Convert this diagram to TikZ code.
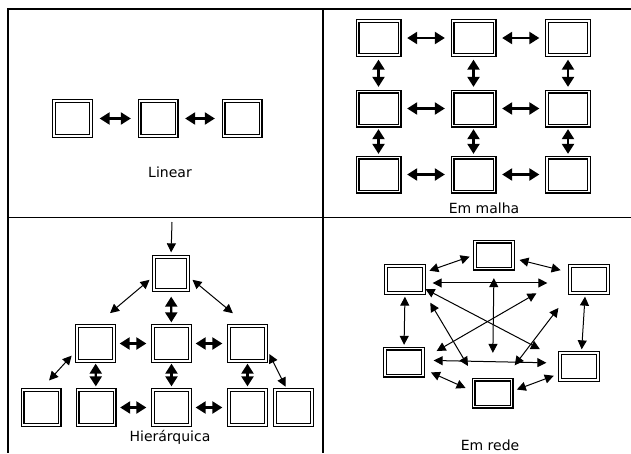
\documentclass[tikz,border=0pt]{standalone}
\usepackage{fontspec}
\setmainfont{DejaVu Sans}
\usetikzlibrary{arrows.meta}
\tikzset{
  pc/.style={draw, line width=1.3pt, double=white, double distance=1.4pt,
             inner sep=0pt, minimum width=37pt, minimum height=35pt},
  link/.style={{Triangle[length=10pt,width=12pt]}-{Triangle[length=10pt,width=12pt]},
               line width=2.2pt},
  thin link/.style={{Triangle[length=9pt,width=9pt]}-{Triangle[length=9pt,width=9pt]},
                    line width=1pt},
  lbl/.style={font=\fontsize{14}{16}\selectfont, inner sep=0pt}
}

\begin{document}
\begin{tikzpicture}[x=1pt, y=-1pt]
        \useasboundingbox (0,0) rectangle (631,453);

        % --- Frame
        \draw[line width=1.2pt] (631,9) -- (8,9) -- (8,453);
        \draw[line width=1.2pt] (8,217.5) -- (631,217.5);
        \draw[line width=1.2pt] (323,9) -- (323,453);

        % --- Linear
        \node[pc] (a1) at (72.5,118.5) {};
        \node[pc] (a2) at (158,118.5) {};
        \node[pc] (a3) at (242,118.5) {};
        \draw[link, shorten <=8pt, shorten >=8pt] (a1) -- (a2);
        \draw[link, shorten <=8pt, shorten >=8pt] (a2) -- (a3);
        \node[lbl] (linear) at (170,172) {Linear};

        % --- Em malha
        \foreach \c/\x in {1/378.5, 2/473.5, 3/568}
          \foreach \r/\y in {1/38, 2/108.5, 3/174.5}
            \node[pc, minimum width=42pt, minimum height=34pt] (m\r\c) at (\x,\y) {};
        \foreach \r in {1,2,3} {
          \draw[link, shorten <=7pt, shorten >=7pt] (m\r1) -- (m\r2);
          \draw[link, shorten <=7pt, shorten >=7pt] (m\r2) -- (m\r3);
        }
        \foreach \c in {1,2,3} {
          \draw[link, shorten <=4pt, shorten >=4pt] (m1\c) -- (m2\c);
          \draw[link, shorten <=3pt, shorten >=3pt] (m2\c) -- (m3\c);
        }
        \node[lbl] (malha) at (484,208) {Em malha};

        % --- Hierárquica
        \coordinate (in) at (172,222);
        \node[pc, minimum width=34pt, minimum height=33pt] (top) at (171,273.5) {};
        \node[pc] (l2) at (95.5,343.5) {};
        \node[pc] (m2) at (171.5,343.5) {};
        \node[pc] (r2) at (247.5,343.5) {};
        \node[pc] (ll3) at (41,407.5) {};
        \node[pc] (l3) at (96,407.5) {};
        \node[pc] (m3) at (171.5,407.5) {};
        \node[pc] (r3) at (247.5,407.5) {};
        \node[pc] (rr3) at (293.5,407.5) {};
        \draw[-{Triangle[length=9pt,width=9pt]}, line width=1pt, shorten >=4pt] (in) -- (top.north);
        \draw[thin link, shorten <=5pt, shorten >=19pt] (top.190) -- (l2.north);
        \draw[thin link, shorten <=5pt, shorten >=19pt] (top.-10) -- (r2.north);
        \draw[link, shorten <=6pt, shorten >=3pt] (top) -- (m2);
        \draw[link, shorten <=5pt, shorten >=6pt] (l2) -- (m2);
        \draw[link, shorten <=5pt, shorten >=6pt] (m2) -- (r2);
        \draw[link, shorten <=2pt, shorten >=3pt] (l2) -- (l3);
        \draw[link, shorten <=2pt, shorten >=3pt] (m2) -- (m3);
        \draw[link, shorten <=2pt, shorten >=3pt] (r2) -- (r3);
        \draw[link, shorten <=5pt, shorten >=6pt] (l3) -- (m3);
        \draw[link, shorten <=5pt, shorten >=6pt] (m3) -- (r3);
        \draw[thin link, shorten <=7pt, shorten >=12pt] (l2.200) -- (ll3.north);
        \draw[thin link, shorten <=6pt, shorten >=3pt] (r2.-15) -- (rr3.110);
        \node[lbl] (hier) at (170,437) {Hierárquica};

        % --- Em rede
        \node[pc, minimum width=38pt, minimum height=27pt] (T) at (494,255) {};
        \node[pc, minimum width=38pt, minimum height=27pt] (LT) at (405,279.5) {};
        \node[pc, minimum width=38pt, minimum height=27pt] (RT) at (589,279.5) {};
        \node[pc, minimum width=38pt, minimum height=27pt] (LB) at (404,362) {};
        \node[pc, minimum width=38pt, minimum height=27pt] (RB) at (579,366.5) {};
        \node[pc, minimum width=38pt, minimum height=27pt] (B) at (492.5,393) {};
        \draw[thin link, shorten <=5pt, shorten >=5pt] (T.west) -- (LT.20);
        \draw[thin link, shorten <=6pt, shorten >=9pt] (T.-10) -- (RT.160);
        \draw[thin link, shorten <=3pt, shorten >=3pt] (LT.south) -- (LB.north);
        \draw[thin link, shorten <=3pt, shorten >=3pt] (RT.255) -- (RB.80);
        \draw[thin link, shorten <=8pt, shorten >=8pt] (LB.-20) -- (B.175);
        \draw[thin link, shorten <=6pt, shorten >=5pt] (RB.200) -- (B.5);
        \draw[thin link, shorten <=8pt, shorten >=22pt] (LT.-10) -- (RT.190);
        \draw[thin link, shorten <=10pt, shorten >=13pt] (LB.5) -- (RB.170);
        \draw[thin link, shorten <=9pt, shorten >=26pt] (T.south) -- (B.north);
        \draw[thin link, shorten <=1pt, shorten >=22pt] (LT.-25) -- (RB.160);
        \draw[thin link, shorten <=11pt, shorten >=15pt] (LT.-35) -- (B.140);
        \draw[thin link, shorten <=38pt, shorten >=15pt] (RT.165) -- (LB.10);
        \draw[thin link, shorten <=18pt, shorten >=17pt] (RT.south west) -- (B.50);
        \node[lbl] (rede) at (490,445) {Em rede};

\end{tikzpicture}
\end{document}
